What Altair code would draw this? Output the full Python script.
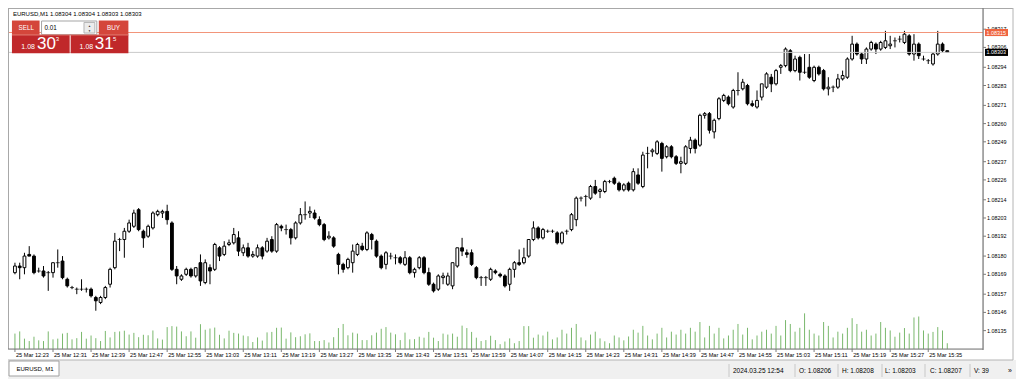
import altair as alt
import pandas as pd

FONT = "Liberation Sans"
W, H = 975, 341

# EURUSD M1, 25 Mar 2024, one candle per minute starting 12:23.
# Prices in points above 1.08000 (1 point = 0.00001)
open_pts = [
    170,174,173,181,180,171,171,170,170,176,
    177,166,161,160,160,160,160,155,152,155,
    163,173,190,190,195,198,208,195,192,197,
    205,206,207,200,172,166,169,172,168,176,
    164,173,172,185,181,187,188,191,182,185,
    180,180,185,183,190,183,198,196,196,191,
    200,205,206,206,202,199,191,191,181,175,
    173,176,181,186,184,193,189,180,175,180,
    179,179,175,179,170,173,179,170,163,160,
    167,163,162,174,185,182,182,173,167,167,
    166,171,169,168,163,172,176,176,180,190,
    197,191,195,195,194,188,195,196,202,215,
    216,215,222,219,219,225,227,224,220,224,
    220,229,222,242,243,242,248,240,246,240,
    236,236,245,250,247,265,266,255,263,274,
    276,270,280,281,283,272,270,276,282,288,
    284,294,295,304,292,300,291,294,286,294,
    292,281,282,282,287,288,299,308,302,299,
    305,308,305,306,307,310,311,309,313,302,
    308,299,298,296,302,308,304,
]
high_pts = [
    176,176,182,186,181,173,174,171,176,184,
    180,167,162,161,166,161,161,156,156,162,
    173,194,191,197,202,208,209,196,199,207,
    208,208,211,201,174,169,173,173,173,181,
    178,175,188,186,189,190,197,195,187,188,
    183,187,186,191,192,200,199,199,197,201,
    209,213,210,208,204,200,195,192,182,176,
    179,187,188,188,195,194,190,181,183,182,
    181,180,183,180,173,180,180,173,164,169,
    170,170,176,185,191,184,184,174,168,168,
    173,172,170,169,173,177,184,185,190,201,
    198,197,196,196,195,195,196,206,216,216,
    217,223,226,221,226,226,228,225,224,225,
    233,233,243,246,245,250,249,247,247,241,
    240,247,252,251,266,267,267,263,276,278,
    277,281,291,287,284,274,280,284,291,290,
    293,296,306,305,301,301,302,302,295,295,
    293,288,283,290,292,300,313,309,303,306,
    310,309,310,316,313,312,313,316,314,314,
    309,301,299,303,316,309,304,
]
low_pts = [
    169,166,169,180,169,170,167,159,167,173,
    166,161,160,157,159,158,155,147,151,154,
    161,172,183,179,194,197,195,185,191,196,
    204,203,199,171,163,165,168,167,167,162,
    163,163,171,177,180,186,187,180,180,179,
    179,179,178,182,182,182,195,193,187,190,
    199,202,203,202,198,189,190,185,169,170,
    172,170,180,183,183,184,179,172,172,178,
    175,175,174,169,167,172,169,162,158,159,
    163,162,160,173,180,179,174,166,162,162,
    165,169,167,161,159,167,174,175,179,189,
    190,190,194,194,187,187,193,195,198,213,
    210,214,217,215,218,224,223,219,219,219,
    219,223,221,233,240,241,231,239,239,235,
    230,235,242,242,246,263,254,251,262,273,
    271,269,277,280,271,270,269,274,281,279,
    283,290,294,291,291,286,290,287,285,289,
    280,277,279,281,286,287,298,301,296,296,
    304,302,304,305,305,306,309,308,301,298,
    299,298,296,295,301,303,303,
]
close_pts = [
    174,173,180,180,170,171,168,170,176,176,
    167,162,161,160,160,160,156,153,155,161,
    172,189,190,195,200,206,196,191,198,206,
    207,207,202,172,168,168,172,168,173,165,
    176,171,187,180,186,188,193,183,185,180,
    181,185,180,189,183,199,197,196,191,200,
    205,205,207,203,199,190,192,186,175,172,
    178,183,187,184,194,190,180,173,182,180,
    179,176,179,170,172,179,170,163,159,168,
    168,168,176,185,183,181,175,167,167,167,
    172,170,168,162,172,176,175,179,190,197,
    191,196,195,195,188,194,195,205,215,215,
    216,222,218,220,225,225,224,220,223,220,
    231,224,241,242,244,249,239,246,240,236,
    237,246,250,245,265,266,256,262,275,277,
    272,280,280,285,272,271,274,284,290,284,
    292,295,305,292,299,291,291,288,294,290,
    281,282,282,287,289,299,308,302,299,305,
    309,305,309,310,308,310,311,314,302,308,
    301,299,298,302,308,304,303,
]
tick_volume = [
    64,73,43,33,51,36,33,73,40,43,
    64,67,40,45,71,43,56,45,33,75,
    48,71,73,76,60,67,49,59,57,77,
    44,39,91,95,93,73,53,73,47,103,
    80,85,89,59,44,76,67,64,56,53,
    29,48,35,69,71,88,89,43,69,49,
    53,61,65,33,33,37,27,49,87,104,
    57,68,64,37,37,57,68,84,91,68,
    61,37,68,40,41,51,47,71,47,33,
    64,60,64,51,97,87,71,47,33,37,
    55,37,20,31,44,24,33,95,95,47,
    60,56,72,40,48,80,64,88,104,48,
    36,60,72,44,32,24,56,48,36,52,
    80,68,96,56,40,64,88,48,72,60,
    80,64,88,72,112,48,96,64,88,44,
    56,80,104,60,88,40,56,72,80,64,
    96,56,120,104,72,88,148,80,64,56,
    112,96,48,72,64,88,128,104,72,80,
    56,64,112,88,77,51,68,87,64,131,
    135,77,64,71,91,77,24,
]

time_tick_minutes = list(range(0, 193, 8))          # 12:23 ... 15:35
time_tick_labels = ["25 Mar %02d:%02d" % divmod(12 * 60 + 23 + m, 60) for m in time_tick_minutes]
price_ticks = [1.08317, 1.08306, 1.08294, 1.08283, 1.08271, 1.08260, 1.08249,
               1.08237, 1.08226, 1.08214, 1.08203, 1.08192, 1.08180, 1.08169,
               1.08157, 1.08146, 1.08135]
price_tick_labels = ["%.5f" % p for p in price_ticks]
bid_price = 1.08303
ask_price = 1.08315

n = len(open_pts)
df = pd.DataFrame({
    "i": list(range(n)),
    "open": [round(1.08 + v / 1e5, 5) for v in open_pts],
    "high": [round(1.08 + v / 1e5, 5) for v in high_pts],
    "low": [round(1.08 + v / 1e5, 5) for v in low_pts],
    "close": [round(1.08 + v / 1e5, 5) for v in close_pts],
    "vol": tick_volume,
})
bull = df[df.close > df.open]
bear = df[df.close < df.open]
doji = df[df.close == df.open]

xs = alt.Scale(domain=[-0.41, 202.46], nice=False, zero=False)
ys = alt.Scale(domain=[1.081239, 1.083298], nice=False, zero=False)
vs = alt.Scale(domain=[0, 1416], nice=False, zero=True)

AXC = "#7d7d7d"
Xn = alt.X("i:Q", scale=xs, axis=None)

vol = alt.Chart(df).mark_rule(color="#7ab86d", strokeWidth=1).encode(
    x=Xn, y=alt.Y("vol:Q", scale=vs, axis=None), y2=alt.datum(0))

wick = alt.Chart(df).mark_rule(color="black", strokeWidth=1).encode(
    x=Xn, y=alt.Y("low:Q", scale=ys, axis=None), y2="high:Q")
bull_body = alt.Chart(bull).mark_bar(width=2.8, fill="white", stroke="black", strokeWidth=1).encode(
    x=Xn, y=alt.Y("open:Q", scale=ys, axis=None), y2="close:Q")
bear_body = alt.Chart(bear).mark_bar(width=2.8, fill="black", stroke="black", strokeWidth=1).encode(
    x=Xn, y=alt.Y("open:Q", scale=ys, axis=None), y2="close:Q")
doji_tick = alt.Chart(doji).mark_tick(orient="horizontal", size=4, thickness=1, color="black").encode(
    x=Xn, y=alt.Y("close:Q", scale=ys, axis=None))

# axes drawn as marks placed through the chart's scales
ptick_df = pd.DataFrame({"p": price_ticks, "lbl": price_tick_labels})
y_ticks = alt.Chart(ptick_df).mark_rule(color=AXC, strokeWidth=1).encode(
    y=alt.Y("p:Q", scale=ys, axis=None), x=alt.value(W), x2=alt.value(W + 3))
y_labels = alt.Chart(ptick_df).mark_text(align="left", baseline="middle", fontSize=5.4,
                                         font=FONT, color="black").encode(
    y=alt.Y("p:Q", scale=ys, axis=None), x=alt.value(W + 4), text="lbl:N")
ttick_df = pd.DataFrame({"m": time_tick_minutes, "lbl": time_tick_labels})
x_ticks = alt.Chart(ttick_df).mark_rule(color=AXC, strokeWidth=1).encode(
    x=alt.X("m:Q", scale=xs, axis=None), y=alt.value(H), y2=alt.value(H + 3))
x_labels = alt.Chart(ttick_df).mark_text(align="left", baseline="top", fontSize=5.6, dx=1,
                                         font=FONT, color="black").encode(
    x=alt.X("m:Q", scale=xs, axis=None), y=alt.value(H + 3.5), text="lbl:N")

lines = pd.DataFrame({"p": [bid_price, ask_price], "c": ["#c9c9c9", "#f2957a"]})
level_lines = alt.Chart(lines).mark_rule(strokeWidth=1).encode(
    y=alt.Y("p:Q", scale=ys, axis=None), x=alt.value(0), x2=alt.value(W),
    color=alt.Color("c:N", scale=None, legend=None))

boxes = pd.DataFrame({"p": [ask_price, bid_price], "lbl": ["1.08315", "1.08303"],
                      "c": ["#ef6540", "#000000"]})
boxes["top"] = boxes.p + 0.0000215
boxes["bot"] = boxes.p - 0.0000215
price_box = alt.Chart(boxes).mark_rect().encode(
    y=alt.Y("top:Q", scale=ys, axis=None), y2="bot:Q", x=alt.value(W + 2), x2=alt.value(W + 25),
    color=alt.Color("c:N", scale=None, legend=None))
price_box_text = alt.Chart(boxes).mark_text(color="white", fontSize=5.4, font=FONT, align="left",
                                            baseline="middle").encode(
    y=alt.Y("p:Q", scale=ys, axis=None), x=alt.value(W + 3.5), text="lbl:N")

one = pd.DataFrame({"a": [0]})


def sx(v):
    return (v - 3) * W / 988


def sy(v):
    return (v - 3) * H / 354


def rect(x1, y1, x2, y2, fill, stroke=None, sw=1):
    kw = dict(fill=fill, strokeWidth=sw)
    if stroke:
        kw["stroke"] = stroke
    return alt.Chart(one).mark_rect(**kw).encode(
        x=alt.value(x1), x2=alt.value(x2), y=alt.value(y1), y2=alt.value(y2))


def rule(x1, y1, x2, y2, color, sw=1):
    return alt.Chart(one).mark_rule(color=color, strokeWidth=sw).encode(
        x=alt.value(x1), x2=alt.value(x2), y=alt.value(y1), y2=alt.value(y2))


def txt(x, y, s, size=6, color="black", align="left", baseline="middle", weight="normal"):
    return alt.Chart(one).mark_text(text=s, fontSize=size, color=color, align=align,
                                    baseline=baseline, font=FONT, fontWeight=weight).encode(
        x=alt.value(x), y=alt.value(y))


ui = []
# frame lines and axis lines
ui.append(rule(0, 0.5, 1005, 0.5, "#a8a8a8"))
ui.append(rule(0.5, 0, 0.5, H, "#a8a8a8"))
ui.append(rule(1005, 0, 1005, 352, "#b4b4b4"))
ui.append(rule(W, 0, W, H + 1, AXC, 1.2))
ui.append(rule(0, H, W, H, AXC, 1.2))
# header
ui.append(txt(sx(8), sy(9.5), "EURUSD,M1  1.08304 1.08304 1.08303 1.08303", size=6))
# one-click panel
BTN = "#d4463b"
BOX = "#c0282a"
ui.append(rect(sx(7), sy(16), sx(35), sy(31), BTN))
ui.append(txt(sx(21.5), sy(23.8), "SELL", size=6.3, color="white", align="center"))
ui.append(rect(sx(37), sy(16.5), sx(93), sy(30.5), "white", stroke="#a5a5a5"))
ui.append(txt(sx(40), sy(23.8), "0.01", size=6.3))
ui.append(rect(sx(80), sy(18), sx(91), sy(29), "#ececec", stroke="#b5b5b5"))
ui.append(txt(sx(85.5), sy(21.3), "▲", size=3, color="#333333", align="center"))
ui.append(txt(sx(85.5), sy(26.2), "▼", size=3, color="#333333", align="center"))
ui.append(rect(sx(95), sy(16), sx(125), sy(31), BTN))
ui.append(txt(sx(110), sy(23.8), "BUY", size=6.3, color="white", align="center"))
ui.append(rect(sx(7), sy(31), sx(65.5), sy(50), BOX))
ui.append(rect(sx(66.5), sy(31), sx(125), sy(50), BOX))
ui.append(rule(sx(7), sy(31), sx(125), sy(31), "#e07a70"))
ui.append(txt(sx(16.5), sy(45.5), "1.08", size=7, color="white", baseline="alphabetic"))
ui.append(txt(sx(32.5), sy(45.5), "30", size=17, color="white", baseline="alphabetic"))
ui.append(txt(sx(51.5), sy(37.5), "3", size=6, color="white", baseline="alphabetic"))
ui.append(txt(sx(75.5), sy(45.5), "1.08", size=7, color="white", baseline="alphabetic"))
ui.append(txt(sx(91), sy(45.5), "31", size=17, color="white", baseline="alphabetic"))
ui.append(txt(sx(109.5), sy(37.5), "5", size=6, color="white", baseline="alphabetic"))
# bottom tab strip and status bar
ui.append(rect(0, 352, 1008, 371, "#f0f0f0"))
ui.append(rule(0, 352, 1005, 352, "#b4b4b4"))
ui.append(rect(1, 353, 51, 368, "white", stroke="#a0a0a0"))
ui.append(txt(8.5, 361, "EURUSD, M1", size=6))
for sepx in [721, 787, 830, 874, 917, 962]:
    ui.append(rule(sepx, 356, sepx, 369, "#c8c8c8"))
status = [(725, "2024.03.25 12:54"), (791, "O: 1.08206"), (834, "H: 1.08208"),
          (877, "L: 1.08203"), (922, "C: 1.08207"), (966, "V: 39")]
for sxv, s in status:
    ui.append(txt(sxv, 363, s, size=6.5))
ui.append(txt(1002, 363, "»", size=7, align="center"))

price_layers = alt.layer(wick, bull_body, bear_body, doji_tick, level_lines,
                         y_ticks, y_labels, x_ticks, x_labels,
                         price_box, price_box_text, *ui)
chart = alt.layer(vol, price_layers).resolve_scale(y="independent").properties(
    width=W, height=H,
    padding={"left": 0, "top": 0, "right": 33, "bottom": 30},
    autosize=alt.AutoSizeParams(type="none"),
    background="white",
).configure_view(stroke=None).configure(font=FONT)

chart.save("out.html", embed_options={"renderer": "svg", "actions": False})
